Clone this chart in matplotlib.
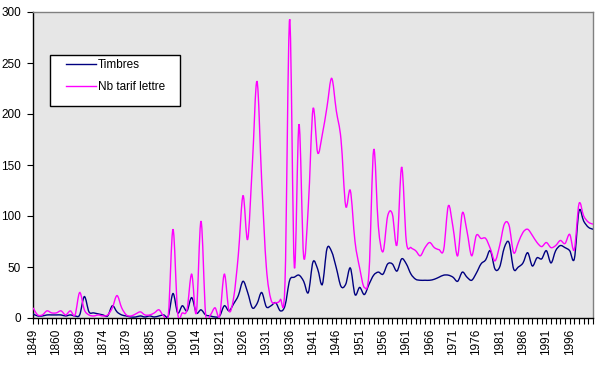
import matplotlib
matplotlib.use("Agg")
import matplotlib.pyplot as plt
import numpy as np
from matplotlib.path import Path
from matplotlib.patches import PathPatch, Rectangle
from matplotlib.lines import Line2D

# ---- data -------------------------------------------------------------
years = [1849, 1850, 1853, 1854, 1858, 1860, 1862, 1863, 1866, 1867,
         1869, 1870, 1871, 1872, 1873, 1874, 1875, 1876, 1877, 1878,
         1879, 1880, 1881, 1882, 1884, 1885, 1890, 1892, 1893, 1898,
         1900, 1902, 1906, 1907, 1910, 1914, 1915, 1917, 1918, 1920] + \
        list(range(1921, 2002))

timbres = [4, 2, 2, 3, 3, 3, 3, 2, 3, 2,
           3, 21, 6, 5, 4, 3, 2, 12, 6, 3,
           2, 1, 1, 2, 1, 2, 1, 2, 3, 2,
           24, 5, 12, 7, 20, 5, 8, 3, 2, 1,
           2, 12, 7, 14, 22, 36, 25, 10, 14, 25,
           11, 12, 15, 7, 12, 37, 40, 42, 36, 25,
           55, 48, 33, 68, 65, 49, 31, 33, 49, 23,
           30, 23, 33, 42, 45, 43, 53, 53, 46, 58,
           53, 43, 38, 37, 37, 37, 38, 40, 42, 42,
           40, 36, 45, 40, 37, 44, 53, 57, 66, 48,
           50, 69, 74, 48, 50, 54, 64, 51, 59, 58,
           66, 54, 66, 71, 69, 66, 58, 105, 95, 89, 87]

tarif_lettre = [10, 3, 3, 7, 5, 5, 7, 3, 7, 3,
                25, 8, 3, 2, 3, 2, 3, 10, 22, 10,
                3, 2, 4, 6, 3, 3, 5, 8, 2, 3,
                87, 5, 5, 8, 43, 5, 95, 3, 3, 10,
                2, 43, 7, 20, 62, 120, 77, 150, 232, 135,
                50, 18, 15, 18, 35, 293, 50, 190, 60, 110,
                205, 162, 180, 207, 235, 203, 175, 110, 125, 75,
                49, 30, 45, 165, 90, 65, 100, 102, 72, 148,
                75, 69, 66, 61, 69, 74, 69, 67, 67, 110,
                89, 61, 103, 85, 61, 81, 78, 78, 68, 56,
                71, 92, 91, 64, 74, 84, 87, 81, 74, 70,
                74, 69, 71, 76, 73, 82, 67, 112, 100, 94, 92]

series_names = ["Timbres", "Nb tarif lettre"]
series_colors = ["#000080", "#FF00FF"]
y_ticks = [0, 50, 100, 150, 200, 250, 300]

# ---- helpers ----------------------------------------------------------
def smooth_path(x, y):
    """Excel-like smoothed line: Catmull-Rom spline as cubic Beziers."""
    p = np.column_stack([x, y]).astype(float)
    n = len(p)
    verts = [p[0]]
    codes = [Path.MOVETO]
    for i in range(n - 1):
        p0 = p[i - 1] if i > 0 else p[i]
        p1 = p[i]
        p2 = p[i + 1]
        p3 = p[i + 2] if i + 2 < n else p[i + 1]
        c1 = p1 + (p2 - p0) / 6.0
        c2 = p2 - (p3 - p1) / 6.0
        verts += [c1, c2, p2]
        codes += [Path.CURVE4] * 3
    return Path(verts, codes)

# ---- figure -----------------------------------------------------------
plt.rcParams['font.family'] = ['Liberation Sans', 'DejaVu Sans']
fig = plt.figure(figsize=(6.0, 3.72), dpi=100)
ax = fig.add_axes([33 / 600, 1 - 318 / 372, 560 / 600, 306 / 372])
ax.set_facecolor("#E6E6E6")

idx = np.arange(len(years))
for vals, col in zip([timbres, tarif_lettre], series_colors):
    ax.add_patch(PathPatch(smooth_path(idx, vals), fill=False,
                           edgecolor=col, lw=1.0, zorder=3))

ax.set_xlim(0, len(years) - 1)
ax.set_ylim(0, 300)
ax.set_yticks(y_ticks)
ax.set_yticklabels([str(v) for v in y_ticks], fontsize=8.5)

last_label = len(years) - 6
ax.set_xticks(idx)
ax.set_xticklabels([str(y) if (i % 5 == 0 and i <= last_label) else ""
                    for i, y in enumerate(years)],
                   rotation=90, fontsize=8.5)
ax.tick_params(axis='x', length=4, width=0.8, direction='out', pad=4)
ax.tick_params(axis='y', length=4, width=0.8, direction='out', pad=4.5)

for s in ['left', 'bottom']:
    ax.spines[s].set_color('black')
    ax.spines[s].set_linewidth(1.0)
for s in ['top', 'right']:
    ax.spines[s].set_color('#808080')
    ax.spines[s].set_linewidth(1.0)

# legend box
ax.add_patch(Rectangle((0.030, 0.693), 0.2325, 0.166, transform=ax.transAxes,
                       facecolor='white', edgecolor='black', lw=1.0, zorder=5))
handles = [Line2D([], [], color=c, lw=1.0) for c in series_colors]
leg = ax.legend(handles, series_names, loc='upper left',
                bbox_to_anchor=(0.055, 0.855), frameon=False,
                fontsize=8.5, handlelength=2.5, handletextpad=0.2,
                labelspacing=0.9, borderaxespad=0, borderpad=0.2)
leg.set_zorder(6)

fig.savefig("out.png", dpi=100, facecolor='white')
